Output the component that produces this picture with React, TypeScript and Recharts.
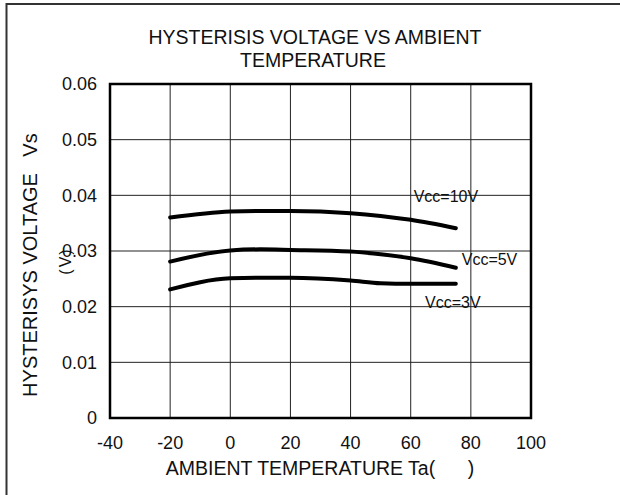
import {
  CartesianGrid,
  Label,
  Line,
  LineChart,
  ReferenceArea,
  ReferenceDot,
  XAxis,
  YAxis,
} from "recharts";

const TEMPS = [-20, 0, 10, 20, 40, 50, 60, 75];
const VCC10 = [0.036, 0.0371, 0.0372, 0.0372, 0.0368, 0.0363, 0.0356, 0.0341];
const VCC5 = [0.0281, 0.0301, 0.0303, 0.0302, 0.0299, 0.0294, 0.0287, 0.027];
const VCC3 = [0.0231, 0.0251, 0.0252, 0.0252, 0.0247, 0.0242, 0.0241, 0.0241];

const X_TICKS = [-40, -20, 0, 20, 40, 60, 80, 100];
const Y_TICKS = [0, 0.01, 0.02, 0.03, 0.04, 0.05, 0.06];

const SERIES = [
  { key: "v10", values: VCC10 },
  { key: "v5", values: VCC5 },
  { key: "v3", values: VCC3 },
];

// label anchors in data coordinates (temp, volts)
const SERIES_LABELS = [
  { text: "Vcc=10V", x: 71.7, y: 0.0398 },
  { text: "Vcc=5V", x: 86.2, y: 0.0284 },
  { text: "Vcc=3V", x: 74, y: 0.0207 },
];

const FONT = '"Liberation Sans", Arial, sans-serif';
const INK = "#111";

const data = TEMPS.map((t, i) => {
  const row: Record<string, number> = { t };
  SERIES.forEach((s) => {
    row[s.key] = s.values[i];
  });
  return row;
});

function plainText(text: string, size: number) {
  return ({ viewBox }: { viewBox?: { x: number; y: number } }) => {
    if (!viewBox) return null;
    return (
      <text
        x={viewBox.x}
        y={viewBox.y}
        textAnchor="middle"
        dominantBaseline="central"
        fontFamily={FONT}
        fontSize={size}
        fill={INK}
      >
        {text}
      </text>
    );
  };
}

export default function App() {
  return (
    <div
      style={{
        position: "absolute",
        left: 0,
        top: 0,
        width: 620,
        height: 495,
        background: "#fff",
        fontFamily: FONT,
      }}
    >
      <svg
        width={620}
        height={495}
        style={{ position: "absolute", left: 0, top: 0 }}
      >
        <path d="M6.5 495 V4 H620" fill="none" stroke="#333" strokeWidth={2} />
        <text
          x={315}
          y={37}
          textAnchor="middle"
          dominantBaseline="central"
          fontSize={19.5}
          fill={INK}
        >
          HYSTERISIS VOLTAGE VS AMBIENT
        </text>
        <text
          x={313}
          y={60}
          textAnchor="middle"
          dominantBaseline="central"
          fontSize={19.5}
          fill={INK}
        >
          TEMPERATURE
        </text>
        <text
          transform="translate(30 285) rotate(-90)"
          textAnchor="middle"
          dominantBaseline="central"
          fontSize={20}
          fill={INK}
        >
          HYSTERISYS VOLTAGE
        </text>
        <text
          transform="translate(30 145) rotate(-90)"
          textAnchor="middle"
          dominantBaseline="central"
          fontSize={20}
          fill={INK}
        >
          Vs
        </text>
        <text
          transform="translate(65 261) rotate(-90)"
          textAnchor="middle"
          dominantBaseline="central"
          fontSize={16}
          letterSpacing={2}
          fill={INK}
        >
          (V)
        </text>
        <text
          x={320}
          y={468}
          textAnchor="middle"
          dominantBaseline="central"
          fontSize={19.5}
          fill={INK}
          style={{ whiteSpace: "pre" }}
        >
          {"AMBIENT TEMPERATURE Ta(      )"}
        </text>
      </svg>
      <div style={{ position: "absolute", left: 0, top: 0 }}>
        <LineChart
          width={620}
          height={495}
          data={data}
          margin={{ top: 84, right: 89, bottom: 47, left: 60 }}
        >
          <CartesianGrid stroke="#222" strokeWidth={1} />
          <XAxis
            dataKey="t"
            type="number"
            domain={[-40, 100]}
            ticks={X_TICKS}
            tick={{ fontSize: 18, fill: INK, fontFamily: FONT }}
            tickLine={false}
            axisLine={false}
            tickMargin={12}
            height={30}
          />
          <YAxis
            type="number"
            domain={[0, 0.06]}
            ticks={Y_TICKS}
            tick={{ fontSize: 18, fill: INK, fontFamily: FONT }}
            tickLine={false}
            axisLine={false}
            tickMargin={7}
            width={50}
          />
          <ReferenceArea
            x1={-40}
            x2={100}
            y1={0}
            y2={0.06}
            fill="none"
            stroke="#000"
            strokeWidth={2.5}
            ifOverflow="visible"
          />
          {SERIES.map((s) => (
            <Line
              key={s.key}
              dataKey={s.key}
              type="monotone"
              stroke="#000"
              strokeWidth={4}
              strokeLinecap="round"
              dot={false}
              activeDot={false}
              isAnimationActive={false}
            />
          ))}
          {SERIES_LABELS.map((l) => (
            <ReferenceDot
              key={l.text}
              x={l.x}
              y={l.y}
              r={0}
              fill="none"
              stroke="none"
              ifOverflow="visible"
            >
              <Label content={plainText(l.text, 16)} />
            </ReferenceDot>
          ))}
        </LineChart>
      </div>
    </div>
  );
}
